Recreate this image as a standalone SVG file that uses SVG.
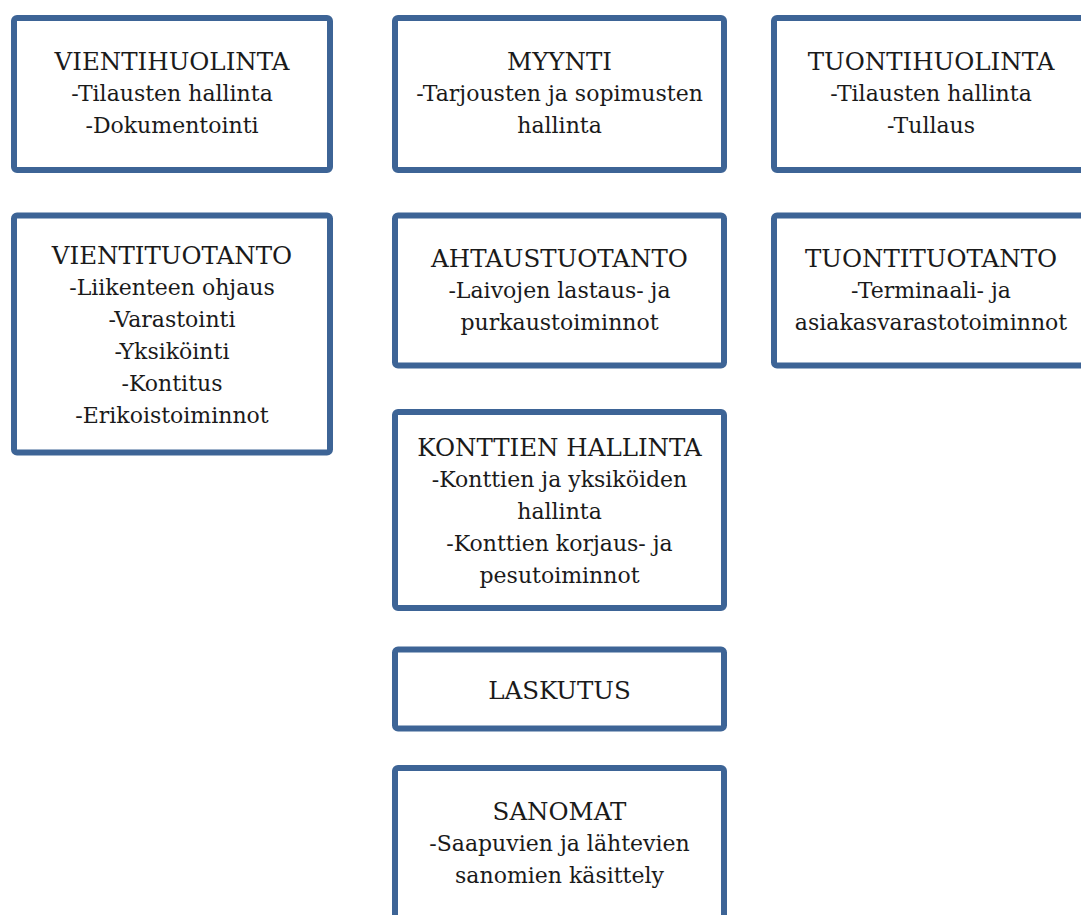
<svg xmlns="http://www.w3.org/2000/svg" width="1081" height="915" viewBox="0 0 1081 915">
  <style>
    .box { fill: #ffffff; stroke: #3d6496; stroke-width: 6; }
    .lbl { font-family: "DejaVu Serif", "Liberation Serif", serif; font-size: 22px; fill: #1a1a1a; text-anchor: middle; }
    .ttl { font-size: 24.5px; }
  </style>
  <rect width="1081" height="915" fill="#ffffff"/>

  <!-- Left column -->
  <g id="vientihuolinta">
    <rect class="box" x="14" y="18" width="316" height="152" rx="3"/>
    <text class="lbl" x="172"><tspan class="ttl" x="172" y="70">VIENTIHUOLINTA</tspan><tspan x="172" y="101">-Tilausten hallinta</tspan><tspan x="172" y="133">-Dokumentointi</tspan></text>
  </g>
  <g id="vientituotanto">
    <rect class="box" x="14" y="215.5" width="316" height="237" rx="3"/>
    <text class="lbl" x="172"><tspan class="ttl" x="172" y="264">VIENTITUOTANTO</tspan><tspan x="172" y="295">-Liikenteen ohjaus</tspan><tspan x="172" y="327">-Varastointi</tspan><tspan x="172" y="359">-Yksiköinti</tspan><tspan x="172" y="391">-Kontitus</tspan><tspan x="172" y="423">-Erikoistoiminnot</tspan></text>
  </g>

  <!-- Middle column -->
  <g id="myynti">
    <rect class="box" x="395" y="18" width="329" height="152" rx="3"/>
    <text class="lbl" x="559.5"><tspan class="ttl" x="559.5" y="70">MYYNTI</tspan><tspan x="559.5" y="101">-Tarjousten ja sopimusten</tspan><tspan x="559.5" y="133">hallinta</tspan></text>
  </g>
  <g id="ahtaustuotanto">
    <rect class="box" x="395" y="215.5" width="329" height="150" rx="3"/>
    <text class="lbl" x="559.5"><tspan class="ttl" x="559.5" y="267">AHTAUSTUOTANTO</tspan><tspan x="559.5" y="298">-Laivojen lastaus- ja</tspan><tspan x="559.5" y="330">purkaustoiminnot</tspan></text>
  </g>
  <g id="konttien-hallinta">
    <rect class="box" x="395" y="412" width="329" height="196" rx="3"/>
    <text class="lbl" x="559.5"><tspan class="ttl" x="559.5" y="456">KONTTIEN HALLINTA</tspan><tspan x="559.5" y="487">-Konttien ja yksiköiden</tspan><tspan x="559.5" y="519">hallinta</tspan><tspan x="559.5" y="551">-Konttien korjaus- ja</tspan><tspan x="559.5" y="583">pesutoiminnot</tspan></text>
  </g>
  <g id="laskutus">
    <rect class="box" x="395" y="649.5" width="329" height="79" rx="3"/>
    <text class="lbl ttl" x="559.5" y="699">LASKUTUS</text>
  </g>
  <g id="sanomat">
    <rect class="box" x="395" y="768" width="329" height="170" rx="3"/>
    <text class="lbl" x="559.5"><tspan class="ttl" x="559.5" y="820">SANOMAT</tspan><tspan x="559.5" y="851">-Saapuvien ja lähtevien</tspan><tspan x="559.5" y="883">sanomien käsittely</tspan></text>
  </g>

  <!-- Right column -->
  <g id="tuontihuolinta">
    <rect class="box" x="774" y="18" width="316" height="152" rx="3"/>
    <text class="lbl" x="931"><tspan class="ttl" x="931" y="70">TUONTIHUOLINTA</tspan><tspan x="931" y="101">-Tilausten hallinta</tspan><tspan x="931" y="133">-Tullaus</tspan></text>
  </g>
  <g id="tuontituotanto">
    <rect class="box" x="774" y="215.5" width="316" height="150" rx="3"/>
    <text class="lbl" x="931"><tspan class="ttl" x="931" y="267">TUONTITUOTANTO</tspan><tspan x="931" y="298">-Terminaali- ja</tspan><tspan x="931" y="330">asiakasvarastotoiminnot</tspan></text>
  </g>

  <!-- No connectors are drawn between the boxes -->
  <g id="connectors"/>
</svg>
